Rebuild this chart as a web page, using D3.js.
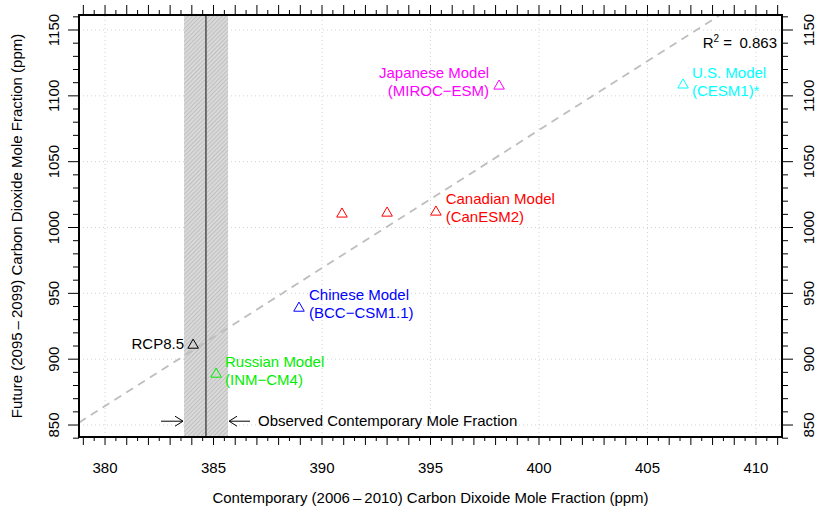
<!DOCTYPE html>
<html>
<head>
<meta charset="utf-8">
<script src="https://cdn.jsdelivr.net/npm/d3@7"></script>
<style>
  body { margin: 0; background: #fff; }
  svg text { font-family: "Liberation Sans", Arial, Helvetica, sans-serif; font-size: 15px; }
</style>
</head>
<body>
<svg id="chart" width="818" height="510"></svg>
<script>
// model points: contemporary vs future CO2 mole fraction (ppm)
const models = ['RCP8.5', 'INM-CM4', 'BCC-CSM1.1', 'CanESM2 a', 'CanESM2 b', 'CanESM2', 'MIROC-ESM', 'CESM1'];
const contemporary = [384.06, 385.12, 388.94, 390.92, 393.0, 395.25, 398.16, 406.64];
const future = [911.4, 889.4, 939.5, 1011.0, 1011.7, 1012.5, 1108.2, 1109.0];
const pointColors = ['#000000', '#00ee00', '#0000ff', '#ff0000', '#ff0000', '#ff0000', '#ff00ff', '#00ffff'];

// observed contemporary value and its uncertainty band
const observed = 384.65;
const observedBand = [383.64, 385.67];

// regression line
const regSlope = 10.48;
const regIntercept = -3118.0;
const rSquared = '0.863';

const xTicks = [380, 385, 390, 395, 400, 405, 410];
const yTicks = [850, 900, 950, 1000, 1050, 1100, 1150];

// text labels [line1, line2, color]
const labels = [
  ['Japanese Model', '(MIROC\u2212ESM)', '#ff00ff'],
  ['U.S. Model', '(CESM1)*', '#00ffff'],
  ['Canadian Model', '(CanESM2)', '#ff0000'],
  ['Chinese Model', '(BCC\u2212CSM1.1)', '#0000ff'],
  ['Russian Model', '(INM\u2212CM4)', '#00ee00']
];

const margin = { top: 15, right: 36, bottom: 73, left: 79 };
const width = 818;
const height = 510;

const svg = d3.select('#chart');

const x = d3.scaleLinear()
  .domain([378.8, 411.2])
  .range([margin.left, width - margin.right]);

const y = d3.scaleLinear()
  .domain([840.9, 1161.4])
  .range([height - margin.bottom, margin.top]);

const [x0, x1] = x.range();
const [y0, y1] = y.range(); // y0 bottom, y1 top

// hatch pattern for the band
const defs = svg.append('defs');
const pat = defs.append('pattern')
  .attr('id', 'hatch')
  .attr('patternUnits', 'userSpaceOnUse')
  .attr('width', 3).attr('height', 3)
  .attr('patternTransform', 'rotate(45)');
pat.append('rect').attr('width', 3).attr('height', 3).attr('fill', '#d9d9d9');
pat.append('line').attr('x1', 0).attr('y1', 0).attr('x2', 0).attr('y2', 3)
  .attr('stroke', '#b0b0b0').attr('stroke-width', 1.2);

// gridlines
const grid = svg.append('g').attr('id', 'grid');
grid.selectAll('.gx').data(xTicks).enter().append('line')
  .attr('x1', d => x(d)).attr('x2', d => x(d))
  .attr('y1', y0).attr('y2', y1)
  .attr('stroke', '#d3d3d3').attr('stroke-dasharray', '1,3');
grid.selectAll('.gy').data(yTicks).enter().append('line')
  .attr('y1', d => y(d)).attr('y2', d => y(d))
  .attr('x1', x0).attr('x2', x1)
  .attr('stroke', '#d3d3d3').attr('stroke-dasharray', '1,3');

// observed band + line
svg.append('rect')
  .attr('x', x(observedBand[0]))
  .attr('width', x(observedBand[1]) - x(observedBand[0]))
  .attr('y', y1).attr('height', y0 - y1)
  .attr('fill', 'url(#hatch)');
svg.append('line')
  .attr('x1', x(observed)).attr('x2', x(observed))
  .attr('y1', y1).attr('y2', y0)
  .attr('stroke', '#555').attr('stroke-width', 1.6);

// regression line, clipped to plot region
defs.append('clipPath').attr('id', 'clip')
  .append('rect').attr('x', x0).attr('y', y1).attr('width', x1 - x0).attr('height', y0 - y1);
const xd = x.domain();
svg.append('line')
  .attr('clip-path', 'url(#clip)')
  .attr('x1', x(xd[0])).attr('y1', y(regIntercept + regSlope * xd[0]))
  .attr('x2', x(xd[1])).attr('y2', y(regIntercept + regSlope * xd[1]))
  .attr('stroke', '#bebebe').attr('stroke-width', 1.8)
  .attr('stroke-dasharray', '8,6');

// triangles
const tri = d3.symbol().type(d3.symbolTriangle).size(48);
svg.append('g').attr('id', 'points')
  .selectAll('path').data(contemporary).enter().append('path')
  .attr('d', tri)
  .attr('transform', (d, i) => translate(x(d), y(future[i]) + 1))
  .attr('fill', 'none')
  .attr('stroke', (d, i) => pointColors[i])
  .attr('stroke-width', 1);

// axes
const xMajor = d3.range(379, 411.01, 1);
const xMinor = d3.range(379.5, 411, 1);
const yMajor = d3.range(850, 1151, 50);
const yMinor = d3.range(840, 1161, 10).filter(d => d % 50 !== 0);

function tickLines(g, vals, len, horizontal, pos, dir) {
  g.selectAll(null).data(vals).enter().append('line')
    .attr('x1', d => horizontal ? x(d) : pos)
    .attr('x2', d => horizontal ? x(d) : pos + dir * len)
    .attr('y1', d => horizontal ? pos : y(d))
    .attr('y2', d => horizontal ? pos + dir * len : y(d))
    .attr('stroke', '#000').attr('stroke-width', 1);
}

const axes = svg.append('g').attr('id', 'axes');
tickLines(axes, xMajor, 8, true, y0, 1);
tickLines(axes, xMinor, 4, true, y0, 1);
tickLines(axes, xMajor, 10, true, y1, -1);
tickLines(axes, xMinor, 5, true, y1, -1);
tickLines(axes, yMajor, 11, false, x0, -1);
tickLines(axes, yMinor, 6, false, x0, -1);
tickLines(axes, yMajor, 11, false, x1, 1);
tickLines(axes, yMinor, 6, false, x1, 1);

axes.append('rect')
  .attr('x', x0).attr('y', y1)
  .attr('width', x1 - x0).attr('height', y0 - y1)
  .attr('fill', 'none').attr('stroke', '#000').attr('stroke-width', 2);

// tick labels
axes.selectAll('.xl').data(xTicks).enter().append('text')
  .attr('x', d => x(d)).attr('y', 473)
  .attr('text-anchor', 'middle')
  .text(d => d);
axes.selectAll('.yl').data(yTicks).enter().append('text')
  .attr('transform', d => translate(59, y(d)) + ' rotate(-90)')
  .attr('text-anchor', 'middle')
  .text(d => d);
axes.selectAll('.yr').data(yTicks).enter().append('text')
  .attr('transform', d => translate(814, y(d)) + ' rotate(-90)')
  .attr('text-anchor', 'middle')
  .text(d => d);

// axis titles
svg.append('text')
  .attr('x', midpoint(x.range())).attr('y', 503)
  .attr('text-anchor', 'middle')
  .text('Contemporary (2006\u2009\u2013\u20092010) Carbon Dixoide Mole Fraction (ppm)');
svg.append('text')
  .attr('transform', translate(22, midpoint(y.range())) + ' rotate(-90)')
  .attr('text-anchor', 'middle')
  .text('Future (2095\u2009\u2013\u20092099) Carbon Dioxide Mole Fraction (ppm)');

// R squared
const r2 = svg.append('text')
  .attr('x', 777).attr('y', 48)
  .attr('text-anchor', 'end');
r2.append('tspan').text('R');
r2.append('tspan').attr('dy', -6).attr('font-size', 10).text('2');
r2.append('tspan').attr('dy', 6).text(' =\u2002' + rSquared);

// model labels: anchor positions in data space
const labelPos = [
  { x: 397.7, y: 1117.3, anchor: 'end' },
  { x: 407.05, y: 1117.3, anchor: 'start' },
  { x: 395.7, y: 1021.6, anchor: 'start' },
  { x: 389.4, y: 948.6, anchor: 'start' },
  { x: 385.53, y: 897.7, anchor: 'start' }
];
const lineGap = 17.5;
labels.forEach((l, i) => {
  const p = labelPos[i];
  const t = svg.append('text')
    .attr('x', x(p.x)).attr('y', y(p.y) + 5)
    .attr('text-anchor', p.anchor)
    .attr('fill', l[2]);
  t.append('tspan').attr('x', x(p.x)).text(l[0]);
  t.append('tspan').attr('x', x(p.x)).attr('dy', lineGap).text(l[1]);
});

svg.append('text')
  .attr('x', x(383.64)).attr('y', y(911.4) + 5)
  .attr('text-anchor', 'end')
  .text('RCP8.5');

// observed annotation with arrows
const arrowY = y(852.9);
svg.append('text')
  .attr('x', x(387.05)).attr('y', arrowY + 5)
  .text('Observed Contemporary Mole Fraction');

function arrow(xFrom, xTo) {
  const dir = xTo > xFrom ? 1 : -1;
  const g = svg.append('g').attr('stroke', '#000').attr('stroke-width', 1).attr('fill', 'none');
  g.append('line').attr('x1', xFrom).attr('x2', xTo).attr('y1', arrowY).attr('y2', arrowY);
  g.append('path').attr('d',
    'M' + (xTo - dir * 8) + ',' + (arrowY - 5) + 'L' + xTo + ',' + arrowY + 'L' + (xTo - dir * 8) + ',' + (arrowY + 5));
}
arrow(x(observedBand[0]) - 23, x(observedBand[0]) - 1);
arrow(x(observedBand[1]) + 22, x(observedBand[1]) + 1);

function midpoint(range) {
  return range[0] + (range[1] - range[0]) / 2.0;
}

function translate(tx, ty) {
  return 'translate(' + String(tx) + ',' + String(ty) + ')';
}
</script>
</body>
</html>
